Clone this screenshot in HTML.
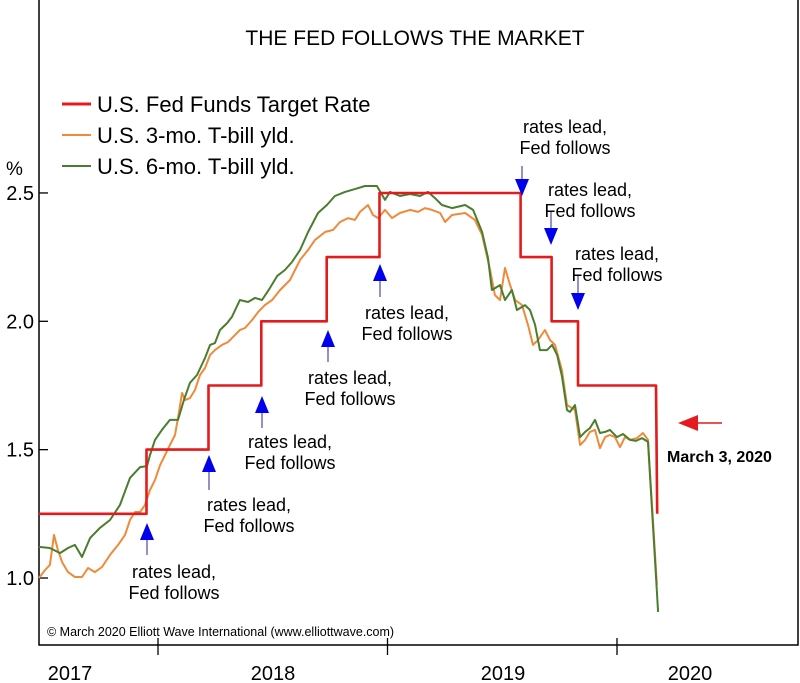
<!DOCTYPE html>
<html><head><meta charset="utf-8"><style>
body{margin:0;background:#fff;font-family:"Liberation Sans",Arial,sans-serif}
svg{display:block}
text{font-family:"Liberation Sans",Arial,sans-serif}
</style></head><body>
<svg id="chart" width="800" height="683" viewBox="0 0 800 683">
<rect x="0" y="0" width="800" height="683" fill="#fff"/>
<path d="M39,0 V645 H798 V0" fill="none" stroke="#000" stroke-width="1.5"/>
<text x="415" y="45" font-size="21" text-anchor="middle">THE FED FOLLOWS THE MARKET</text>
<text x="6" y="175" font-size="19">%</text>
<g id="yaxis"></g>
<g id="xaxis"></g>
<g>
<line x1="62" y1="104" x2="91" y2="104" stroke="#e41a1c" stroke-width="3"/>
<text x="97" y="112" font-size="22">U.S. Fed Funds Target Rate</text>
<line x1="62" y1="135" x2="91" y2="135" stroke="#ef8a3a" stroke-width="2"/>
<text x="97" y="143" font-size="22">U.S. 3-mo. T-bill yld.</text>
<line x1="62" y1="166" x2="91" y2="166" stroke="#4a7d2e" stroke-width="2"/>
<text x="97" y="174" font-size="22">U.S. 6-mo. T-bill yld.</text>
</g>
<g id="series"></g>
<g id="notes"></g>
<polygon points="678,423 698,415 698,431" fill="#e41a1c"/>
<line x1="696" y1="423" x2="722" y2="423" stroke="#e41a1c" stroke-width="1.5"/>
<text x="667" y="462" font-size="16" font-weight="bold">March 3, 2020</text>
<text x="47" y="636" font-size="12.5">© March 2020 Elliott Wave International (www.elliottwave.com)</text>
</svg>
<script>
const yTicks=[1.0,1.5,2.0,2.5];
const yearLabels=["2017","2018","2019","2020"];
const yearStarts=[2017,2018,2019,2020];
const fedDates=[2017.48,2017.95,2017.95,2018.22,2018.22,2018.45,2018.45,2018.735,2018.735,2018.965,2018.965,2019.58,2019.58,2019.715,2019.715,2019.83,2019.83,2020.17,2020.17,2020.175];
const fedRates=[1.25,1.25,1.5,1.5,1.75,1.75,2.0,2.0,2.25,2.25,2.5,2.5,2.25,2.25,2.0,2.0,1.75,1.75,1.75,1.25];
const sixPx=[[39,547],[50,548],[60,553],[68,548],[75,545],[82,557],[90,538],[100,528],[110,520],[120,505],[130,478],[140,467],[147,466],[150,455],[155,440],[162,430],[170,420],[178,420],[184,400],[190,383],[197,375],[205,358],[210,345],[215,343],[220,330],[227,323],[232,317],[240,300],[248,302],[255,298],[262,300],[270,288],[277,276],[285,270],[292,262],[300,250],[308,232],[318,213],[327,205],[335,196],[345,192],[355,189],[365,186],[377,186],[385,200],[390,192],[400,196],[410,194],[420,196],[428,192],[435,198],[442,205],[452,208],[465,205],[473,210],[482,232],[488,258],[492,290],[500,285],[505,300],[512,290],[517,310],[525,305],[530,310],[535,325],[540,350],[547,350],[552,345],[557,355],[562,376],[567,410],[570,412],[575,405],[580,437],[585,432],[590,428],[595,420],[600,433],[605,432],[610,430],[617,437],[623,434],[630,440],[636,441],[642,438],[648,442],[658,612]];
const threePx=[[39,578],[45,570],[50,565],[54,535],[58,550],[62,562],[68,572],[75,577],[82,577],[88,568],[95,572],[102,567],[110,555],[118,545],[125,535],[130,520],[135,512],[140,512],[145,505],[150,490],[155,480],[160,465],[165,455],[170,445],[175,435],[178,418],[182,393],[185,400],[190,398],[195,390],[200,375],[205,368],[210,355],[215,350],[222,345],[228,342],[235,335],[240,330],[245,328],[252,320],[258,312],[265,305],[272,300],[280,290],[290,280],[300,260],[308,250],[315,240],[325,232],[333,230],[340,222],[348,218],[355,220],[360,212],[368,205],[373,215],[378,218],[385,210],[392,218],[400,213],[410,210],[418,212],[425,208],[432,210],[440,213],[445,222],[452,215],[465,213],[475,220],[482,235],[490,270],[495,295],[500,300],[505,268],[510,285],[515,300],[522,305],[528,325],[533,345],[538,340],[545,330],[550,340],[555,345],[562,370],[567,405],[572,408],[575,410],[580,445],[585,440],[590,432],[595,430],[600,448],[605,437],[610,435],[615,437],[620,447],[625,437],[630,440],[637,438],[643,433],[648,440],[657,585]];
const sixDates=sixPx.map(p=>+(2018+(p[0]-158)/229.5).toFixed(3));
const sixVals=sixPx.map(p=>+(1+(578-p[1])/256.7).toFixed(3));
const threeDates=threePx.map(p=>+(2018+(p[0]-158)/229.5).toFixed(3));
const threeVals=threePx.map(p=>+(1+(578-p[1])/256.7).toFixed(3));

const X=t=>158+(t-2018)*229.5;
const Y=v=>578-(v-1)*256.7;
const NS="http://www.w3.org/2000/svg";
function mk(tag,attrs,parent,txt){const e=document.createElementNS(NS,tag);for(const k in attrs)e.setAttribute(k,attrs[k]);if(txt!=null)e.textContent=txt;parent.appendChild(e);return e;}
const ya=document.getElementById('yaxis');
yTicks.forEach(v=>{
  const l=mk('line',{x1:39,x2:48,y1:Y(v),y2:Y(v),stroke:'#000','stroke-width':1.3},ya);
  
  
  const t=mk('text',{x:34,y:Y(v)+7,'font-size':20,'text-anchor':'end'},ya,v.toFixed(1));
  
  
});
const xa=document.getElementById('xaxis');
const labelX=[70,273,503,690];
yearStarts.forEach((yr,i)=>{
  if(i>0){const l=mk('line',{x1:X(yr),x2:X(yr),y1:638,y2:655,stroke:'#000','stroke-width':1.3},xa);
  
  }
  const t=mk('text',{x:labelX[i],y:680,'font-size':20,'text-anchor':'middle'},xa,yearLabels[i]);
  
  
});
const sg=document.getElementById('series');
function line(ds,vs,color,w,name){
  const p=mk('polyline',{points:ds.map((d,i)=>X(d).toFixed(1)+','+Y(vs[i]).toFixed(1)).join(' '),fill:'none',stroke:color,'stroke-width':w,'stroke-linejoin':'round'},sg);
  
  
}
line(threeDates,threeVals,'#ef8a3a',2,'series-3mo-tbill');
line(sixDates,sixVals,'#4a7d2e',2,'series-6mo-tbill');
line(fedDates,fedRates,'#e41a1c',2.6,'series-fed-funds');
const ng=document.getElementById('notes');
const noteSpec=[[147,523,555,174,578,'up'],[209,455,490,249,511,'up'],[262,396,428,290,448,'up'],[328,330,362,350,384,'up'],[380,264,297,407,319,'up'],[522,166,196,565,133,'down'],[551,212,245,590,196,'down'],[578,276,310,617,260,'down']];
noteSpec.forEach(s=>{
  const [ax,y1,y2,tx,ty,dir]=s;
  const g=mk('g',{},ng);
  
  
  if(dir==='up'){
    mk('line',{x1:ax,x2:ax,y1:y1+14,y2:y2,stroke:'#4a4aa0','stroke-width':1.2},g);
    mk('polygon',{points:`${ax},${y1} ${ax-7},${y1+17} ${ax+7},${y1+17}`,fill:'#0000ee'},g);
  } else {
    mk('line',{x1:ax,x2:ax,y1:y1,y2:y2-14,stroke:'#4a4aa0','stroke-width':1.2},g);
    mk('polygon',{points:`${ax},${y2} ${ax-7},${y2-17} ${ax+7},${y2-17}`,fill:'#0000ee'},g);
  }
  mk('text',{x:tx,y:ty,'font-size':18,'text-anchor':'middle'},g,'rates lead,');
  mk('text',{x:tx,y:ty+21,'font-size':18,'text-anchor':'middle'},g,'Fed follows');
});
</script>
</body></html>
